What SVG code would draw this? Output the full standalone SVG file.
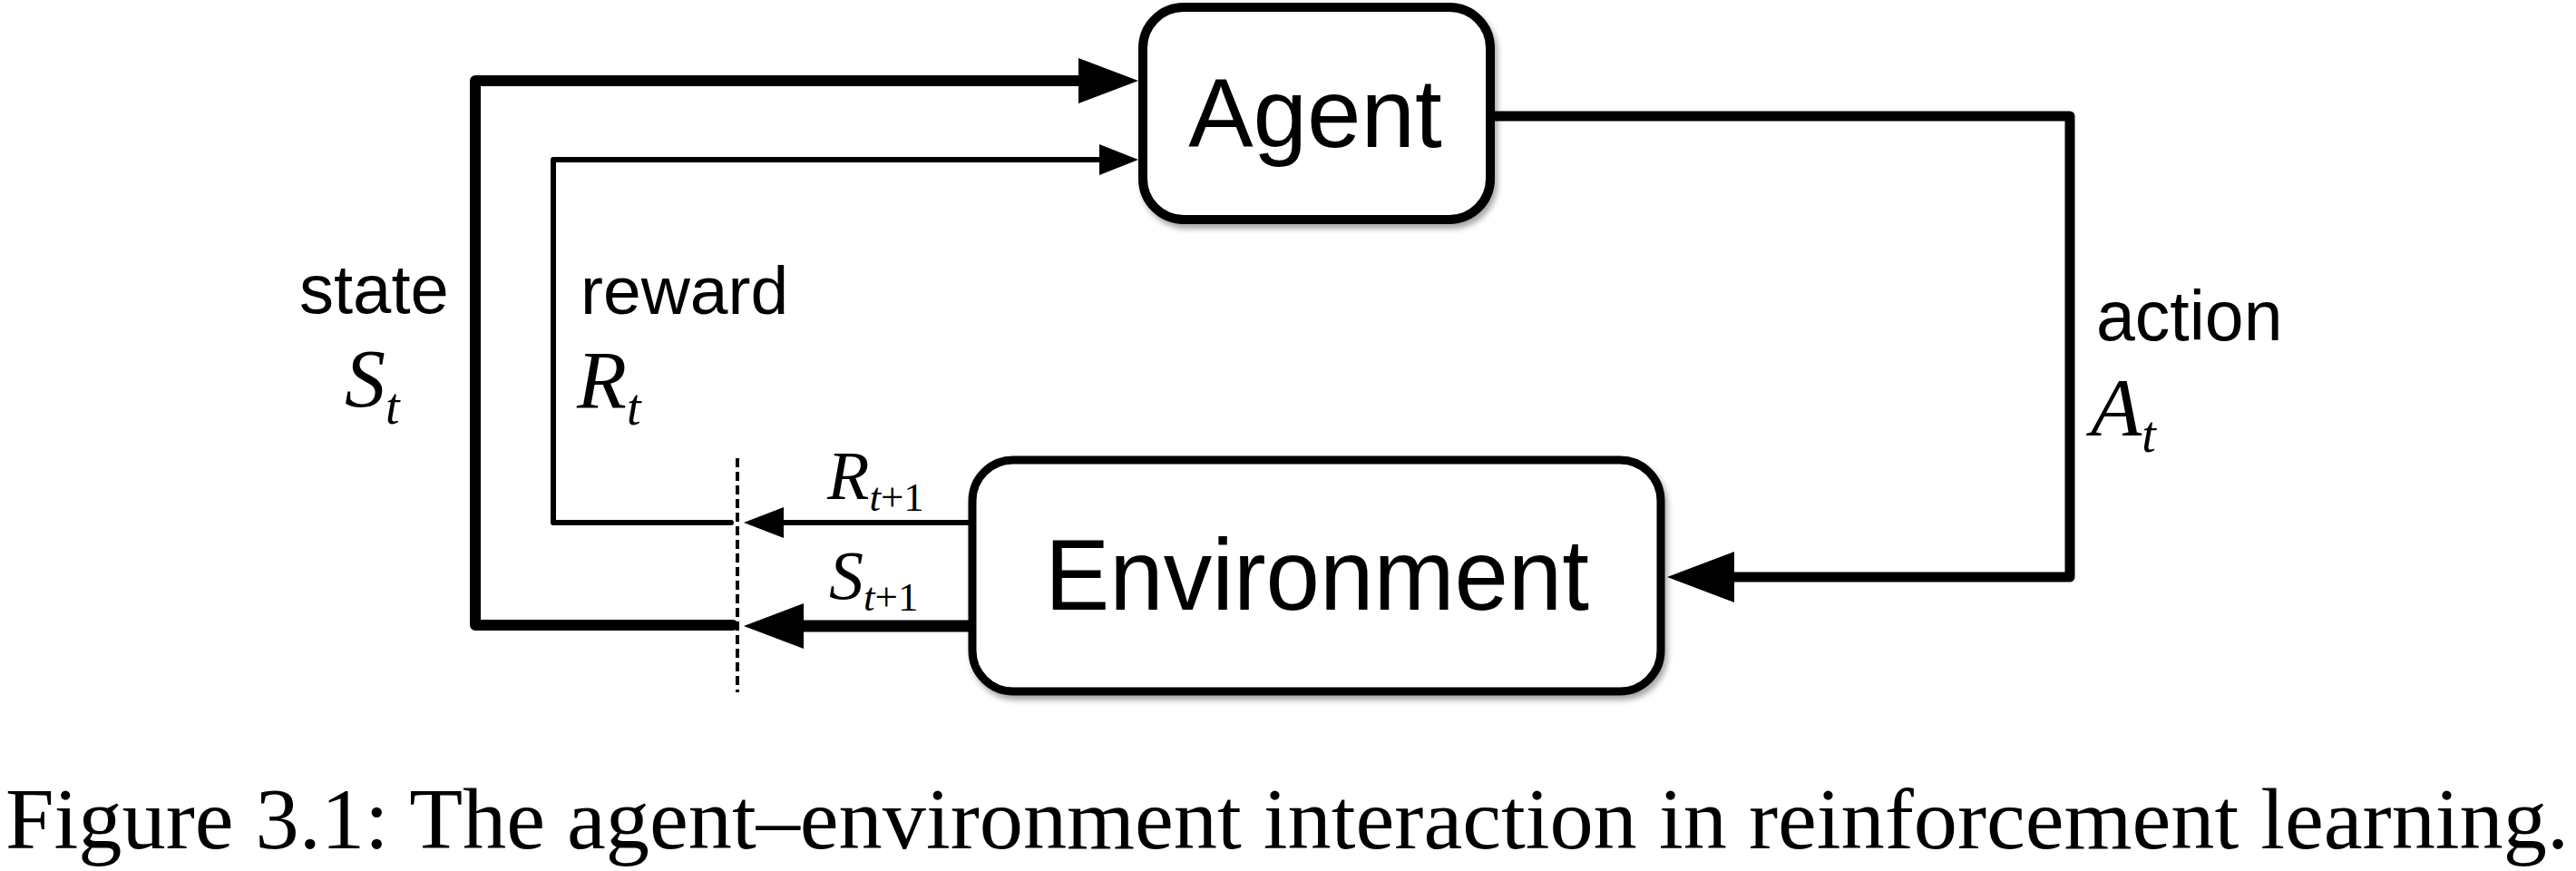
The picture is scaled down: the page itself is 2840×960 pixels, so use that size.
<svg xmlns="http://www.w3.org/2000/svg" width="2840" height="960" viewBox="0 0 2840 960">
<style>
.box{fill:#fff;stroke:#000;filter:url(#sh)}
.lbl{font-family:"Liberation Sans",Arial,sans-serif;fill:#000}
.math{font-family:"Liberation Serif","Times New Roman",serif;font-style:italic;fill:#000}
.ln{fill:none;stroke:#000;stroke-linejoin:round;stroke-linecap:round}
.ah{fill:#000;stroke:none}
.cap{font-family:"Liberation Serif","Times New Roman",serif;fill:#000}
</style>
<defs>
<filter id="sh" x="-10%" y="-10%" width="125%" height="130%">
<feDropShadow dx="3" dy="5" stdDeviation="3" flood-color="#000" flood-opacity="0.35"/>
</filter>
</defs>
<rect width="2840" height="960" fill="#fff"/>
<g id="connectors">
<path class="ln" d="M808 689 H524 V89 H1192" stroke-width="12"/>
<polygon class="ah" points="1255,89 1189,64 1189,114"/>
<path class="ln" d="M806 576 H610 V176 H1215" stroke-width="6"/>
<polygon class="ah" points="1255,176 1212,159 1212,193"/>
<line x1="813" y1="505" x2="813" y2="763" stroke="#000" stroke-width="4" stroke-dasharray="10,5"/>
<path class="ln" d="M1072 576 H860" stroke-width="6"/>
<polygon class="ah" points="820,576 864,559 864,593"/>
<path class="ln" d="M1074 690 H880" stroke-width="13"/>
<polygon class="ah" points="820,690 886,665 886,715"/>
<path class="ln" d="M1648 128 H2282 V636 H1905" stroke-width="11" stroke-linecap="butt"/>
<polygon class="ah" points="1838,636 1912,608 1912,664"/>
</g>
<g id="agent">
<rect class="box" x="1260" y="8" width="383" height="234" rx="45" stroke-width="10"/>
<text class="lbl" x="1450" y="162" font-size="107" text-anchor="middle">Agent</text>
</g>
<g id="environment">
<rect class="box" x="1072" y="507" width="759" height="255" rx="45" stroke-width="9"/>
<text class="lbl" x="1452" y="672" font-size="111" text-anchor="middle" textLength="600" lengthAdjust="spacingAndGlyphs">Environment</text>
</g>
<g id="labels">
<text class="lbl" x="330" y="345" font-size="76">state</text>
<text class="math" x="380" y="448" font-size="90">S<tspan font-size="56" dy="19">t</tspan></text>
<text class="lbl" x="640" y="346" font-size="75">reward</text>
<text class="math" x="636" y="450" font-size="90">R<tspan font-size="56" dy="18">t</tspan></text>
<text class="lbl" x="2311" y="375" font-size="77">action</text>
<text class="math" x="2305" y="480" font-size="92">A<tspan font-size="56" dy="18">t</tspan></text>
<text class="math" x="912" y="550" font-size="76">R<tspan font-size="45" dy="13">t<tspan font-style="normal">+1</tspan></tspan></text>
<text class="math" x="914" y="660" font-size="76">S<tspan font-size="45" dy="13">t<tspan font-style="normal">+1</tspan></tspan></text>
</g>
<text class="cap" x="6" y="935" font-size="96" textLength="2826" lengthAdjust="spacingAndGlyphs">Figure 3.1:  The agent–environment interaction in reinforcement learning.</text>
</svg>
